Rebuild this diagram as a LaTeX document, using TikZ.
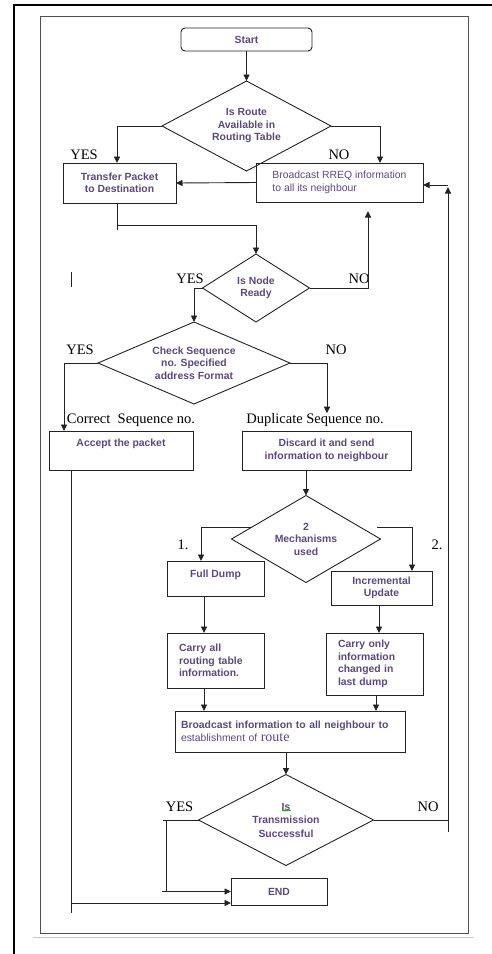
\documentclass[tikz,border=0pt]{standalone}
\usepackage{fontspec}
\setmainfont{Liberation Serif}
\setsansfont{Liberation Sans}
\usetikzlibrary{shapes.geometric,arrows.meta,calc}
\definecolor{flowtext}{RGB}{92,72,128}
\definecolor{flowline}{RGB}{35,35,35}
\definecolor{rulegray}{RGB}{80,80,80}
\definecolor{rulebluegray}{RGB}{190,202,222}
\tikzset{
  boxfont/.style={font=\sffamily\bfseries\fontsize{10.4}{12.5}\selectfont, text=flowtext},
  procbox/.style={draw=flowline, line width=0.9pt, rectangle, inner sep=0pt, outer sep=0pt, align=center, boxfont},
  decbox/.style={draw=flowline, line width=0.9pt, diamond, inner sep=0pt, outer sep=0pt, align=center, boxfont},
  lbl/.style={font=\fontsize{14.5}{16}\selectfont, inner sep=0pt},
  flow/.style={draw=flowline, line width=0.9pt},
  squiggle/.style={draw=green!55!black, line width=0.6pt}
}
\begin{document}
\begin{tikzpicture}[x=1pt,y=-1pt,>={Triangle[length=6.5pt,width=6pt]}]
	  \useasboundingbox (0,0) rectangle (492,954);
	  \draw[line width=1.8pt] (14,954) -- (14,5) -- (492,5);
	  \draw[line width=1pt, rulegray] (40,16) rectangle (468,933);
	  \draw[line width=1.5pt, rulebluegray] (33,937.5) -- (474,937.5);
	  \node[procbox, rounded corners=4pt, minimum width=131pt, minimum height=23pt] (start) at (246.5,39.5) {Start};
	  \node[decbox, minimum width=169pt, minimum height=90pt, aspect=1.88] (route) at (246.5,126) {Is Route\\Available in\\Routing Table};
	  \node[procbox, minimum width=113pt, minimum height=40pt] (transfer) at (119.5,183) {Transfer Packet\\to Destination};
	  \node[procbox, minimum width=167pt, minimum height=39pt, align=left, font=\sffamily\fontsize{10.4}{12.5}\selectfont] (bcast) at (339.5,182.5) {Broadcast RREQ information\\to all its neighbour};
	  \node[decbox, minimum width=107pt, minimum height=68pt, aspect=1.57] (ready) at (256,288) {Is Node\\Ready};
	  \node[decbox, minimum width=192pt, minimum height=82pt, aspect=2.34] (check) at (194,363) {Check Sequence\\no. Specified\\address Format};
	  \node[lbl] (correctlab) at (131,420) {Correct\ \ Sequence no.};
	  \node[lbl] (duplab) at (315,420) {Duplicate Sequence no.};
	  \node[procbox, minimum width=144pt, minimum height=39pt, text height=7.5pt, text depth=15pt] (accept) at (121,450.5) {Accept the packet};
	  \node[procbox, minimum width=169pt, minimum height=39pt] (discard) at (326.5,450.5) {Discard it and send\\information to neighbour};
	  \node[decbox, minimum width=149pt, minimum height=87pt, aspect=1.71] (mech) at (306,539) {2\\Mechanisms\\used};
	  \node[procbox, minimum width=97pt, minimum height=35pt, text height=7.5pt, text depth=9pt] (full) at (215.5,578.5) {Full Dump};
	  \node[procbox, minimum width=101pt, minimum height=34pt] (incr) at (381.5,588) {Incremental\\Update};
	  \node[procbox, minimum width=97pt, minimum height=55pt, text width=73pt, align=left] (carryall) at (215.5,660.5) {Carry all\\routing table\\information.};
	  \node[procbox, minimum width=97pt, minimum height=62pt, text width=73pt, align=left] (carryonly) at (374.5,664) {Carry only\\information\\changed in\\last dump};
	  \node[procbox, minimum width=230pt, minimum height=41pt, text width=218pt, align=left] (bcinfo) at (290,731.5) {Broadcast information to all neighbour to\\{\mdseries establishment of \rmfamily\fontsize{14}{12.5}\selectfont route}};
	  \node[decbox, minimum width=175pt, minimum height=91pt, aspect=1.92, font=\sffamily\bfseries\fontsize{10.4}{13.5}\selectfont] (trans) at (286,820) {Is\\Transmission\\Successful};
	  \node[procbox, minimum width=96pt, minimum height=27pt] (endbox) at (279,891.5) {END};
	  \node[lbl] (yesroute) at (84,155) {YES};
	  \node[lbl] (noroute) at (339,155) {NO};
	  \node[lbl] (yesready) at (190,279) {YES};
	  \node[lbl] (noready) at (359,279) {NO};
	  \node[lbl] (yescheck) at (80,350) {YES};
	  \node[lbl] (nocheck) at (336,350) {NO};
	  \node[lbl] (onelab) at (183,545) {1.};
	  \node[lbl] (twolab) at (437,545) {2.};
	  \node[lbl] (yestrans) at (179.5,807) {YES};
	  \node[lbl] (notrans) at (428,807) {NO};
	  \draw[squiggle] (282,810) \foreach \i in {1,...,4} { -- ++(1.1,0.8) -- ++(1.1,-0.8) };
	  \draw[flow] (71,272) -- (71,287);
	  \draw[flow,->] (start.south) -- (route.north);
	  \draw[flow,->] (route.west) -| ([xshift=-2.5pt]transfer.north);
	  \draw[flow,->] (route.east) -| ([xshift=40.5pt]bcast.north);
	  \draw[flow,->] (bcast.west) -- (transfer.east);
	  \draw[flow] ([xshift=-2.5pt]transfer.south) -- ++(0,27);
	  \draw[flow,->] ($(transfer.south)+(-2.5,22)$) -| (ready.north);
	  \draw[flow,->] (ready.east) -| ([xshift=28.5pt,yshift=-9pt]bcast.south);
	  \draw[flow,->] (ready.west) -| (check.north);
	  \draw[flow,->] (check.west) -| ([xshift=-57pt]accept.north);
	  \draw[flow,->] (check.east) -| ([xshift=12pt]duplab.north);
	  \draw[flow] ([xshift=-50pt]accept.south) -- ++(0,443);
	  \draw[flow,->] ($(accept.south)+(-50,433)$) -- ([yshift=-11.5pt]endbox.west);
	  \draw[flow,->] (discard.south -| mech.north) -- (mech.north);
	  \draw[flow,->] ($(mech.west)!0.27!(mech.north)$) -| ([xshift=-14.5pt]full.north);
	  \draw[flow,->] ($(mech.east)+(-4,-12)$) -| ([xshift=30.5pt]incr.north);
	  \draw[flow,->] ([xshift=-11.5pt]full.south) -- ([xshift=-11.5pt]carryall.north);
	  \draw[flow,->] ([xshift=-2.5pt]incr.south) -- ([xshift=4.5pt]carryonly.north);
	  \coordinate (ca) at ([xshift=-11.5pt]carryall.south);
	  \coordinate (co) at ([xshift=1.5pt]carryonly.south);
	  \draw[flow,->] (ca) -- (ca |- bcinfo.north);
	  \draw[flow,->] (co) -- (co |- bcinfo.north);
	  \draw[flow,->] (bcinfo.south -| trans.north) -- (trans.north);
	  \coordinate (yesdrop) at ($(trans.west)+(-32,0)$);
	  \draw[flow] (trans.west) -- ++(-36,0);
	  \draw[flow] (yesdrop) -- (yesdrop |- endbox.west);
	  \draw[flow,->] ($(yesdrop |- endbox.west)+(-5,0)$) -- (endbox.west);
	  \coordinate (back) at (448,185);
	  \draw[flow] (trans.east) -- (trans.east -| back);
	  \draw[flow,->] ($(trans.east -| back)+(0,12)$) -- ($(back)+(0,2)$);
	  \draw[flow,->] (back) -- (back -| bcast.east);
	\end{tikzpicture}
\end{document}
